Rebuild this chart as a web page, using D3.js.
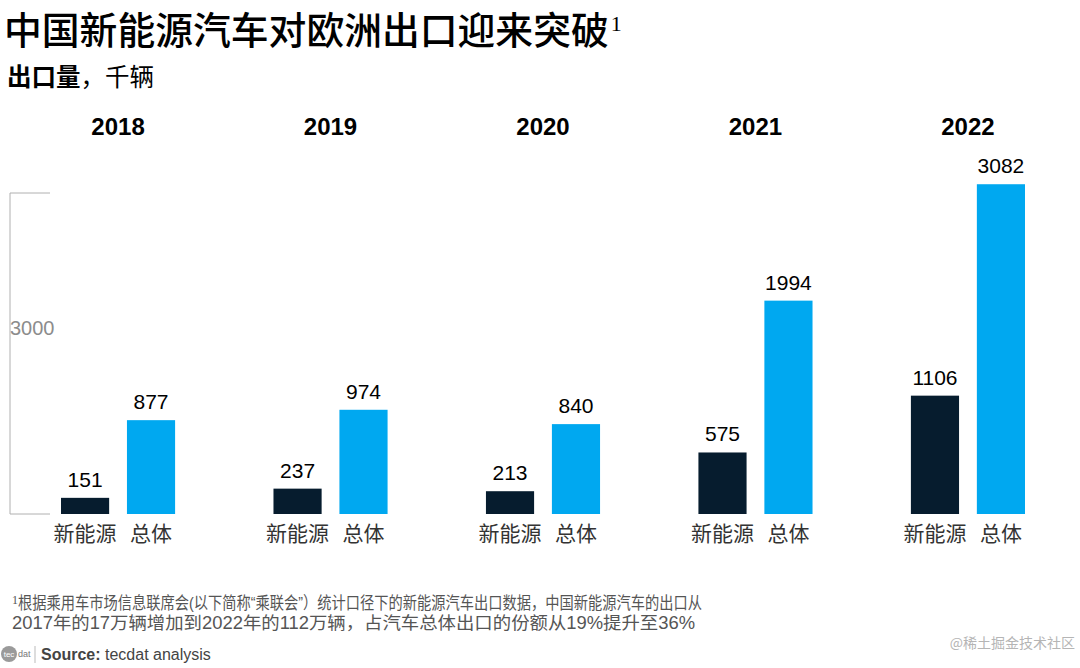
<!DOCTYPE html>
<html>
<head>
<meta charset="utf-8">
<script src="https://cdn.jsdelivr.net/npm/d3@7"></script>
<style>
  body { margin: 0; background: #fff; }
  text { font-family: "Liberation Sans", Arial, "Noto Sans CJK SC", sans-serif; }
  .cjk { font-family: "Noto Sans CJK SC", sans-serif; }
</style>
</head>
<body>
<div id="chart"></div>
<script>
// data
const years = ["2018", "2019", "2020", "2021", "2022"];
const categories = ["新能源", "总体"];
const nevValues = [151, 237, 213, 575, 1106];
const totalValues = [877, 974, 840, 1994, 3082];
const axisTicks = [0, 3000];

const colors = {"新能源": "#061c2e", "总体": "#00a8f0"};

const width = 1080, height = 668;

const svg = d3.select("#chart").append("svg")
    .attr("width", width)
    .attr("height", height);

// rows for the bars
let rows = [];
years.forEach((y, i) => {
    rows.push({year: y, cat: categories[0], value: nevValues[i]});
    rows.push({year: y, cat: categories[1], value: totalValues[i]});
});

// scales
const x0 = d3.scaleBand().domain(years).range([61, 1025]).paddingInner(0.463).paddingOuter(0);
const x1 = d3.scaleBand().domain(categories).range([0, x0.bandwidth()]).paddingInner(0.27);
const y = d3.scaleLinear().domain([0, 3000]).range([514, 193]);

// title
const title = svg.append("text")
    .attr("class", "cjk")
    .attr("x", 4).attr("y", 44)
    .attr("font-size", 37.8)
    .attr("font-weight", 500)
    .attr("fill", "#000");
title.append("tspan")
    .text("中国新能源汽车对欧洲出口迎来突破");
title.append("tspan")
    .attr("font-family", "Liberation Serif")
    .attr("font-size", 22)
    .attr("dx", 2)
    .attr("dy", -13)
    .text("1");

const sub = svg.append("text")
    .attr("class", "cjk")
    .attr("x", 7).attr("y", 86)
    .attr("font-size", 24.5)
    .attr("fill", "#000");
sub.append("tspan").attr("font-weight", 700).text("出口量");
sub.append("tspan").attr("font-weight", 400).text("，千辆");

// the odd bracket axis on the left
const axisG = svg.append("g");
axisG.append("line")
    .attr("x1", 10).attr("x2", 10)
    .attr("y1", y(0)).attr("y2", y(3000))
    .attr("stroke", "#b0b0b0").attr("stroke-width", 1);
axisG.selectAll(".stub")
    .data(axisTicks)
    .join("line")
    .attr("class", "stub")
    .attr("x1", 10).attr("x2", 50)
    .attr("y1", d => y(d)).attr("y2", d => y(d))
    .attr("stroke", "#b0b0b0").attr("stroke-width", 1);
axisG.append("text")
    .attr("x", 10).attr("y", 335)
    .attr("font-size", 20)
    .attr("fill", "#8c8c8c")
    .text(d3.format("d")(axisTicks[1]));

// year headers
svg.selectAll(".year")
    .data(years)
    .join("text")
    .attr("class", "year")
    .attr("x", d => x0(d) + x0.bandwidth() / 2)
    .attr("y", 135)
    .attr("text-anchor", "middle")
    .attr("font-size", 24)
    .attr("font-weight", 700)
    .attr("fill", "#000")
    .text(d => d);

// bars
const groups = svg.selectAll(".grp")
    .data(rows)
    .join("g")
    .attr("class", "grp")
    .attr("transform", d => `translate(${x0(d.year) + x1(d.cat)},0)`);

groups.append("rect")
    .attr("x", 0)
    .attr("y", d => y(d.value))
    .attr("width", x1.bandwidth())
    .attr("height", d => y(0) - y(d.value))
    .attr("fill", d => colors[d.cat]);

groups.append("text")
    .attr("x", x1.bandwidth() / 2)
    .attr("y", d => y(d.value) - 11)
    .attr("text-anchor", "middle")
    .attr("font-size", 21)
    .attr("fill", "#000")
    .text(d => d.value);

groups.append("text")
    .attr("class", "cjk")
    .attr("x", x1.bandwidth() / 2)
    .attr("y", 541)
    .attr("text-anchor", "middle")
    .attr("font-size", 21)
    .attr("fill", "#333")
    .text(d => d.cat);

// footnote
const foot = svg.append("g").attr("class", "cjk");
const f1 = foot.append("text")
    .attr("x", 12).attr("y", 609)
    .attr("font-size", 17)
    .attr("fill", "#555");
f1.append("tspan").attr("font-family", "Liberation Serif").attr("font-size", 12).attr("dy", -5).text("1");
f1.append("tspan").attr("dy", 5)
    .attr("textLength", 684)
    .attr("lengthAdjust", "spacingAndGlyphs")
    .text("根据乘用车市场信息联席会(以下简称“乘联会”）统计口径下的新能源汽车出口数据，中国新能源汽车的出口从");
foot.append("text")
    .attr("x", 12).attr("y", 629)
    .attr("font-size", 17.5)
    .attr("fill", "#555")
    .attr("textLength", 683)
    .attr("lengthAdjust", "spacingAndGlyphs")
    .text("2017年的17万辆增加到2022年的112万辆，占汽车总体出口的份额从19%提升至36%");

// source line with little logo
const logo = svg.append("g").attr("transform", "translate(0,646)");
logo.append("circle").attr("cx", 9).attr("cy", 8).attr("r", 8).attr("fill", "#9a9a9a");
logo.append("text").attr("x", 9).attr("y", 11).attr("text-anchor", "middle")
    .attr("font-size", 8).attr("fill", "#fff").text("tec");
logo.append("text").attr("x", 18).attr("y", 11)
    .attr("font-size", 9).attr("fill", "#777").text("dat");
logo.append("line").attr("x1", 35).attr("x2", 35).attr("y1", 0).attr("y2", 17)
    .attr("stroke", "#bbb");

const src = svg.append("text")
    .attr("x", 41).attr("y", 660)
    .attr("font-size", 16)
    .attr("fill", "#444");
src.append("tspan").attr("font-weight", 700).text("Source: ");
src.append("tspan").text("tecdat analysis");

// watermark
svg.append("text")
    .attr("class", "cjk")
    .attr("x", 1075).attr("y", 648)
    .attr("text-anchor", "end")
    .attr("font-size", 14)
    .attr("fill", "#b5b5b5")
    .text("@稀土掘金技术社区");
</script>
</body>
</html>
